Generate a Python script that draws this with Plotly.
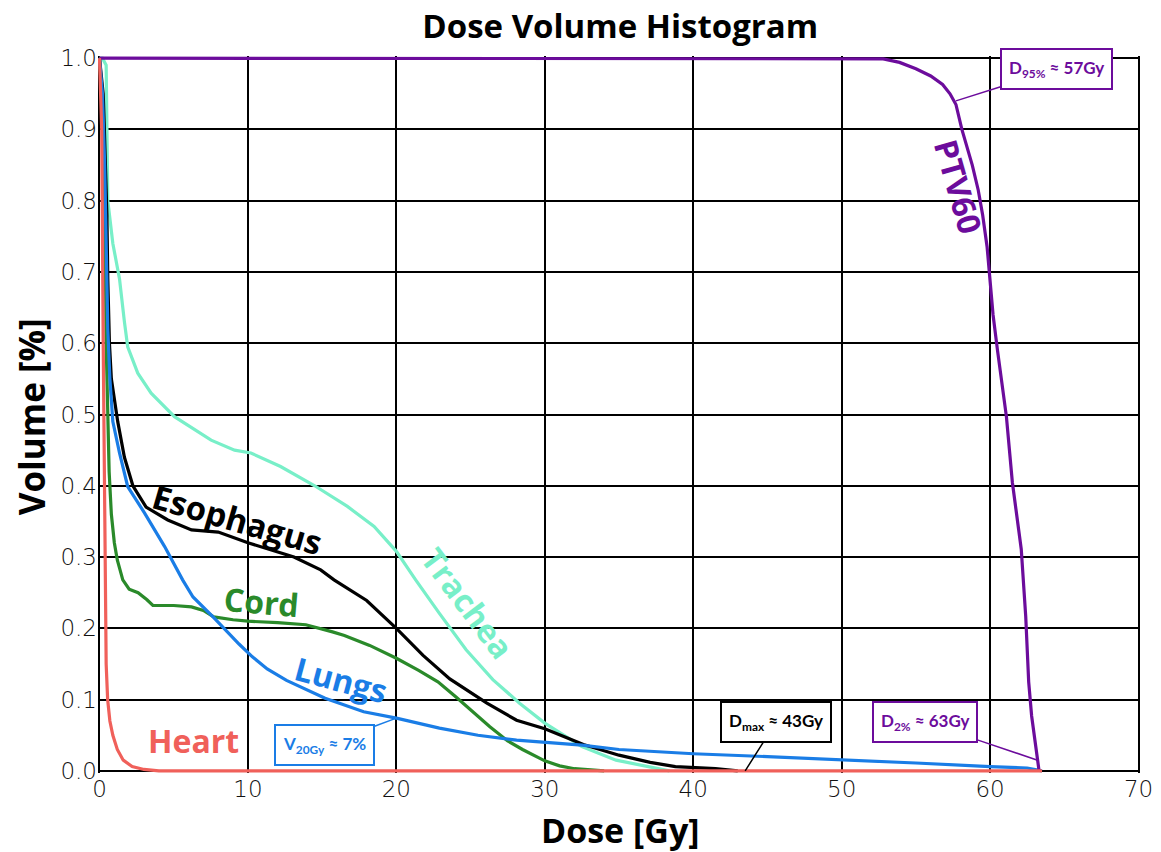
import plotly.graph_objects as go

# ---------------- data ----------------
heart_dose = [0, 0.15, 0.25, 0.35, 0.45, 0.55, 0.7, 0.9, 1.2, 1.6, 2.2, 3.0, 4.0, 20, 40, 63.5]
heart_vol = [1.0, 0.9, 0.6, 0.3, 0.15, 0.1, 0.07, 0.05, 0.03, 0.015, 0.006, 0.002, 0.0, 0.0, 0.0, 0.0]

esoph_dose = [0, 0.25, 0.3, 0.4, 0.5, 0.56, 0.67, 0.8, 1.0, 1.23, 1.68, 2.25, 3.14, 4.6, 6.2, 8.0,
              10.0, 11.5, 13.1, 14.9, 15.8, 18.0, 20.0, 21.8, 23.6, 26.1, 28.1, 30.0, 32.6, 35.0,
              37.1, 38.8, 40.4, 41.5, 43.0]
esoph_vol = [1.0, 0.95, 0.92, 0.86, 0.78, 0.69, 0.6, 0.55, 0.52, 0.49, 0.44, 0.40, 0.37, 0.352, 0.338, 0.335,
             0.32, 0.31, 0.30, 0.282, 0.268, 0.239, 0.2, 0.162, 0.129, 0.095, 0.071, 0.059, 0.037, 0.022,
             0.012, 0.006, 0.004, 0.003, 0.0]

trachea_dose = [0, 0.2, 0.45, 0.5, 0.56, 0.9, 1.35, 1.68, 1.9, 2.58, 3.48, 5.05, 5.72, 7.52, 9.1, 10.2,
                12.2, 14.5, 16.7, 18.5, 20.0, 21.3, 22.9, 24.7, 26.5, 28.3, 30.0, 32.5, 34.8, 37.0, 38.4]
trachea_vol = [1.0, 1.0, 0.99, 0.92, 0.8, 0.74, 0.69, 0.63, 0.595, 0.558, 0.53, 0.497, 0.488, 0.464, 0.45, 0.446,
               0.427, 0.40, 0.371, 0.343, 0.308, 0.268, 0.221, 0.17, 0.128, 0.095, 0.067, 0.034, 0.015, 0.006, 0.0]

cord_dose = [0, 0.3, 0.45, 0.55, 0.65, 0.8, 1.0, 1.2, 1.57, 2.0, 2.6, 3.2, 3.6, 5.0, 6.2, 7.0, 7.7, 9.0,
             10.0, 12.0, 13.9, 15.7, 16.5, 18.2, 20.0, 21.5, 22.8, 24.0, 25.2, 26.3, 27.5, 28.5, 30.0,
             31.0, 32.0, 33.0, 34.0]
cord_vol = [1.0, 0.9, 0.6, 0.5, 0.42, 0.36, 0.32, 0.296, 0.268, 0.255, 0.25, 0.24, 0.232, 0.232, 0.23, 0.225, 0.216, 0.212,
            0.21, 0.208, 0.205, 0.195, 0.19, 0.176, 0.158, 0.141, 0.125, 0.104, 0.082, 0.062, 0.042, 0.03, 0.014,
            0.007, 0.003, 0.001, 0.0]

lungs_dose = [0, 0.2, 0.35, 0.45, 0.56, 0.7, 0.9, 1.35, 1.9, 3.03, 4.38, 5.6, 6.3, 7.7, 8.6, 9.4, 10.3,
              11.3, 12.6, 15.2, 17.8, 20.0, 22.9, 25.5, 28.1, 30.0, 32.5, 35.0, 40.0, 45.0, 50.0, 55.0,
              60.0, 62.5, 63.5]
lungs_vol = [1.0, 0.95, 0.85, 0.75, 0.62, 0.55, 0.49, 0.446, 0.399, 0.362, 0.315, 0.268, 0.244, 0.215, 0.195, 0.178, 0.16,
             0.143, 0.127, 0.102, 0.083, 0.074, 0.060, 0.050, 0.043, 0.040, 0.036, 0.03, 0.024, 0.02, 0.016, 0.011,
             0.006, 0.004, 0.0]

ptv_dose = [0, 52.0, 52.8, 53.9, 55.0, 56.0, 56.8, 57.3, 57.7, 58.1, 58.5, 58.8, 59.2, 59.5, 59.8, 60.0,
            60.2, 60.5, 60.8, 61.1, 61.5, 61.8, 62.1, 62.4, 62.6, 62.8, 63.0, 63.3]
ptv_vol = [1.0, 1.0, 0.999, 0.994, 0.985, 0.975, 0.963, 0.95, 0.935, 0.90, 0.87, 0.85, 0.815, 0.78, 0.735, 0.69,
           0.64, 0.59, 0.545, 0.497, 0.405, 0.36, 0.311, 0.217, 0.125, 0.077, 0.045, 0.0]

x_ticks = [0, 10, 20, 30, 40, 50, 60, 70]
y_ticks = [0.0, 0.1, 0.2, 0.3, 0.4, 0.5, 0.6, 0.7, 0.8, 0.9, 1.0]

# ---------------- style ----------------
C_HEART = "#f0605a"
C_ESOPH = "#000000"
C_TRACHEA = "#78efc8"
C_CORD = "#2a8a2a"
C_LUNGS = "#1a7de6"
C_PTV = "#6c0c9c"
FONT = "Open Sans"

fig = go.Figure()


def add(d, v, c, name):
    fig.add_trace(go.Scatter(x=d, y=v, mode="lines", name=name,
                             line=dict(color=c, width=3.2), showlegend=False))


add(trachea_dose, trachea_vol, C_TRACHEA, "Trachea")
add(cord_dose, cord_vol, C_CORD, "Cord")
add(esoph_dose, esoph_vol, C_ESOPH, "Esophagus")
add(lungs_dose, lungs_vol, C_LUNGS, "Lungs")
add(ptv_dose, ptv_vol, C_PTV, "PTV60")
add(heart_dose, heart_vol, C_HEART, "Heart")


def label(text, x, y, color, angle=0, size=32):
    fig.add_annotation(x=x, y=y, text=f"<b>{text}</b>", showarrow=False, textangle=angle,
                       font=dict(family=FONT, size=size, color=color))


label("PTV60", 57.9, 0.82, C_PTV, angle=74)
label("Esophagus", 9.3, 0.352, C_ESOPH, angle=16, size=33)
label("Cord", 10.9, 0.237, C_CORD, angle=5)
label("Lungs", 16.3, 0.128, C_LUNGS, angle=15)
label("Trachea", 24.8, 0.236, C_TRACHEA, angle=53)
label("Heart", 6.3, 0.043, C_HEART, angle=0)


def box(text, x, y, ax, ay, color):
    fig.add_annotation(x=x, y=y, ax=ax, ay=ay, text=f"<b>{text}</b>", showarrow=True,
                       arrowhead=0, arrowwidth=1.5, arrowcolor=color,
                       bordercolor=color, borderwidth=2, borderpad=7, bgcolor="white",
                       font=dict(family="Lato", size=17, color=color))


box("D<sub>95%</sub> ≈ 57Gy", 57.7, 0.94, 101, -32, C_PTV)
box("D<sub>2%</sub> ≈ 63Gy", 63.2, 0.015, -113, -38, C_PTV)
box("D<sub>max</sub> ≈ 43Gy", 43.5, 0.0, 31, -49, C_ESOPH)
box("V<sub>20Gy</sub> ≈ 7%", 20.0, 0.074, -72, 27, C_LUNGS)

# axis titles (placed relative to the plot area)
fig.add_annotation(xref="paper", yref="paper", x=0.501, y=-0.08, text="<b>Dose [Gy]</b>",
                   showarrow=False, xanchor="center", yanchor="middle",
                   font=dict(family=FONT, size=34, color="black"))
fig.add_annotation(xref="paper", yref="paper", x=-0.064, y=0.4965, text="<b>Volume [%]</b>",
                   showarrow=False, textangle=-90, xanchor="center", yanchor="middle",
                   font=dict(family=FONT, size=35, color="black"))

axis_common = dict(showgrid=True, gridcolor="black", gridwidth=2, zeroline=False,
                   showline=False, ticks="", layer="below traces", automargin=False,
                   tickfont=dict(family="DejaVu Sans", size=23, weight=300, color="#111111"))

# the page adds an 8px body margin, so the figure is 8px smaller than the window
fig.update_layout(
    width=1153, height=844, autosize=False,
    paper_bgcolor="white", plot_bgcolor="white",
    margin=dict(l=90, r=21, t=48, b=79),
    title=dict(text="<b>Dose Volume Histogram</b>", x=0.531, xanchor="center",
               y=0.978, yanchor="middle", automargin=False,
               font=dict(family=FONT, size=33, color="black")),
    xaxis=dict(range=[-0.1, 70.1], tickvals=x_ticks, **axis_common),
    yaxis=dict(range=[-0.003, 1.003], tickvals=y_ticks, tickformat=".1f", **axis_common),
)

fig.write_html("out.html")
